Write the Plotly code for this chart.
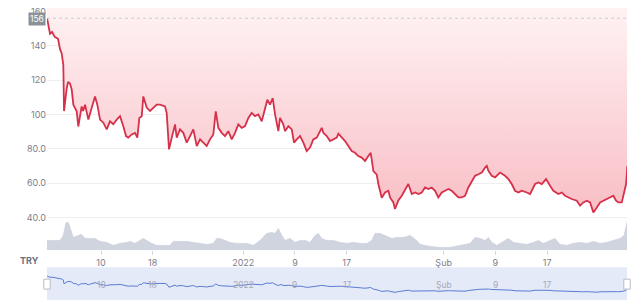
import plotly.graph_objects as go
import pandas as pd

START = pd.Timestamp("2021-12-01")
currency = "TRY"

# price: days since 2021-12-01, value in TRY
price_days = [0.65, 0.80, 1.11, 1.42, 1.88, 2.35, 2.66, 2.92, 3.17, 3.28, 3.43, 3.69, 3.90, 4.20, 4.47,
              4.72, 5.24, 5.49, 5.75, 6.01, 6.22, 6.53, 7.04, 7.56, 8.07, 8.43, 8.85, 9.36, 9.88, 10.39,
              10.90, 11.43, 11.94, 12.45, 12.87, 13.22, 13.75, 14.26, 14.62, 14.93, 15.30, 15.54, 16.07,
              16.58, 17.09, 17.62, 18.13, 18.90, 19.16, 19.52, 19.94, 20.45, 20.71, 21.22, 21.73, 22.26,
              22.77, 23.28, 23.81, 24.32, 24.83, 25.35, 25.86, 26.37, 26.75, 27.15, 27.67, 28.18, 28.69,
              29.22, 29.73, 30.24, 30.77, 31.28, 31.79, 32.31, 32.82, 33.34, 33.86, 34.37, 34.73, 35.14,
              35.56, 35.92, 36.43, 36.69, 37.20, 37.46, 37.98, 38.50, 38.86, 39.27, 39.79, 40.30, 40.82,
              41.33, 41.84, 42.37, 42.88, 43.14, 43.39, 43.92, 44.43, 44.94, 45.46, 45.71, 46.24, 46.75,
              47.26, 47.78, 48.29, 48.80, 49.33, 49.84, 50.35, 50.72, 51.13, 51.65, 51.90, 52.42, 52.94,
              53.45, 53.71, 54.22, 54.48, 54.99, 55.52, 56.03, 56.54, 57.07, 57.58, 58.09, 58.61, 59.12,
              59.63, 60.16, 60.67, 61.18, 61.71, 62.22, 62.73, 63.25, 63.76, 64.28, 64.80, 65.31, 65.82,
              66.35, 66.86, 67.37, 67.90, 68.41, 68.67, 68.92, 69.44, 69.95, 70.46, 70.72, 71.50, 72.01,
              72.53, 73.04, 73.56, 74.08, 74.86, 75.37, 76.14, 76.65, 77.18, 77.84, 78.46, 78.97, 79.75,
              80.27, 80.78, 81.29, 81.82, 82.59, 83.10, 83.61, 84.14, 84.65, 85.16, 85.69, 86.20, 86.71,
              87.23, 87.74, 88.25, 88.67, 89.03, 89.55, 89.91, 90.22, 90.42]
price_vals = [156, 153, 147, 148, 145, 144, 138, 135.5, 128.8, 102, 108, 115, 119, 118, 114.5,
              105.7, 101.8, 93, 99, 104.7, 102, 105.7, 97, 104, 110.5, 105.7, 97, 95.2, 91.3, 96,
              94.3, 97, 99, 93.2, 87.4, 86.5, 88.4, 89.3, 86.5, 98, 99, 110.5, 104,
              102, 104, 105.7, 105.7, 104.7, 100.9, 79.7, 86.5, 94.2, 86.5, 91.3, 89.3, 83.6,
              87.4, 91.3, 81.6, 85.5, 83.6, 81.6, 85.5, 88.4, 101.8, 92.2, 89.3, 87.4, 90.3,
              85.5, 89.3, 94.2, 92.2, 93.2, 98, 100.9, 99, 100, 96, 103.9, 108.6, 105.7,
              109.5, 100, 90.3, 98, 94.2, 90.3, 93.2, 91.3, 83.6, 85.5, 87.4, 83.6, 78.7,
              80.7, 85.5, 86.5, 90.3, 92.2, 89.3, 87.4, 84.5, 85.5, 86.5, 88.8, 86.5, 84.5,
              81.6, 78.7, 77.7, 75.8, 74.9, 72.9, 75.8, 77.7, 67, 65, 59.5, 51.5, 54.6,
              55.6, 51.7, 48.8, 45, 50, 52.7, 56.6, 59.5, 53.7, 54.6, 53.7, 54.6, 57.5,
              56.6, 57.5, 55.6, 51.7, 54.6, 55.6, 56.6, 55.6, 53.7, 51.7, 51.7, 52.7, 57.5,
              61.4, 64.3, 65.2, 66.2, 69.1, 70.1, 67.2, 64.3, 63.4, 65.2, 66.2, 64.3, 62.4,
              59.5, 55.6, 54.6, 55.6, 54.6, 53.7, 59.5, 60.4, 59.5, 62.4, 58.5, 55.6, 53.7,
              54.6, 52.7, 51.7, 50.8, 49.8, 46.9, 48.8, 49.8, 48.8, 43, 45.9, 48.8, 49.8,
              50.8, 51.7, 52.7, 49.8, 48.8, 48.8, 53.7, 59.5, 70.1]

# volume (relative units)
vol_days = [0.60, 1.62, 2.66, 3.17, 3.59, 3.94, 4.31, 4.72, 5.49, 6.01, 6.53, 7.30, 8.07, 8.85, 9.88,
            10.90, 11.94, 12.98, 13.49, 14.26, 15.04, 15.54, 16.07, 16.84, 17.62, 18.64, 19.67, 20.19,
            21.22, 22.26, 23.28, 24.32, 25.35, 26.37, 26.90, 27.41, 28.18, 28.96, 29.99, 30.50, 31.54,
            32.56, 33.60, 34.63, 35.41, 35.92, 36.43, 36.96, 37.46, 38.24, 39.01, 39.79, 40.56, 41.33,
            42.11, 42.62, 43.14, 43.92, 44.94, 45.98, 47.01, 48.03, 49.07, 50.11, 50.88, 51.39, 52.17,
            52.94, 53.97, 54.75, 55.77, 56.81, 57.84, 58.35, 59.90, 61.44, 62.99, 64.54, 66.09, 66.86,
            67.63, 68.41, 68.92, 69.44, 70.22, 71.24, 72.01, 72.79, 73.82, 74.86, 75.88, 76.65, 77.42,
            78.46, 79.23, 80.00, 81.05, 82.07, 83.10, 84.14, 85.16, 86.20, 87.23, 88.25, 89.29, 89.91,
            90.33, 90.42]
vol_vals = [10, 10, 10, 15, 28, 28, 20, 13, 15, 16, 12, 12, 12, 9, 8,
            5, 7, 8, 9, 7, 10, 12, 10, 7, 5, 5, 5, 9,
            9, 9, 8, 7, 6, 7, 12, 12, 10, 8, 7, 7, 7,
            5, 10, 17, 18, 17, 22, 15, 10, 12, 8, 10, 10, 8,
            15, 17, 12, 10, 10, 8, 7, 8, 7, 7, 10, 17, 17,
            15, 12, 13, 13, 15, 10, 6, 4, 3, 3, 5, 7, 13,
            12, 10, 13, 8, 5, 9, 12, 8, 7, 6, 8, 10, 7,
            10, 12, 6, 5, 7, 8, 7, 9, 7, 8, 10, 12, 15,
            27, 30]

tick_dates = ["2021-12-10", "2021-12-18", "2022-01-01", "2022-01-09", "2022-01-17",
              "2022-02-01", "2022-02-09", "2022-02-17"]
tick_text = ["10", "18", "2022", "9", "17", "Şub", "9", "17"]
ytick_vals = [40, 60, 80, 100, 120, 140, 160]
ytick_text = ["40.0", "60.0", "80.0", "100", "120", "140", "160"]

price_x = [START + pd.Timedelta(days=d) for d in price_days]
vol_x = [START + pd.Timedelta(days=d) for d in vol_days]
x_range = [START + pd.Timedelta(days=0.646), START + pd.Timedelta(days=90.36)]

Y_TOP = 161.97
Y_BOT = 20.92
LINE_RED = "#d6304a"
TICK_COL = "#7b808c"
FONT = "Inter"

fig = go.Figure()

# invisible top boundary for fill above line
fig.add_trace(go.Scatter(x=[price_x[0], price_x[-1]], y=[Y_TOP, Y_TOP], mode="lines",
                         line=dict(width=0, color="rgba(0,0,0,0)"), showlegend=False,
                         hoverinfo="skip", xaxis="x", yaxis="y"))
fig.add_trace(go.Scatter(x=price_x, y=price_vals, mode="lines",
                         line=dict(color=LINE_RED, width=1.8),
                         fill="tonexty",
                         fillgradient=dict(type="vertical",
                                           colorscale=[[0, "rgb(248,190,197)"], [1, "rgb(255,242,243)"]],
                                           start=42, stop=Y_TOP),
                         showlegend=False, xaxis="x", yaxis="y"))

# volume
fig.add_trace(go.Scatter(x=vol_x, y=vol_vals, mode="lines", fill="tozeroy",
                         fillcolor="#cfd4de", line=dict(color="#c6cbd6", width=0.6),
                         showlegend=False, xaxis="x", yaxis="y2"))

# navigator
fig.add_trace(go.Scatter(x=price_x, y=price_vals, mode="lines",
                         line=dict(color="#5b7bd0", width=1),
                         showlegend=False, xaxis="x2", yaxis="y3"))

H = 304.0
def py(p):
    return (H - p) / H

fig.update_layout(
    width=640, height=304,
    margin=dict(l=47, r=13, t=0, b=0, pad=0),
    paper_bgcolor="white", plot_bgcolor="white",
    font=dict(family=FONT, size=9, color=TICK_COL),
    xaxis=dict(anchor="y", range=x_range, tickvals=tick_dates, ticktext=tick_text,
               ticks="outside", ticklen=4, tickcolor="#d3d7df", showgrid=False,
               showline=False, zeroline=False, tickfont=dict(size=9, color=TICK_COL)),
    yaxis=dict(domain=[py(250), py(6)], range=[Y_BOT, Y_TOP], tickvals=ytick_vals,
               ticktext=ytick_text, gridcolor="#efeff2", gridwidth=1, zeroline=False,
               showline=False, ticks="", tickfont=dict(size=9, color=TICK_COL)),
    yaxis2=dict(domain=[py(250), py(218)], range=[0, 32], anchor="x", visible=False),
    xaxis2=dict(anchor="y3", range=x_range, visible=False),
    yaxis3=dict(domain=[py(300), py(267)], range=[-7, 215], anchor="x2", visible=False),
)

shapes = [
    dict(type="rect", xref="x2 domain", yref="y3 domain", x0=0, x1=1, y0=0, y1=1,
         fillcolor="#e5eaf9", line=dict(width=0), layer="below"),
    dict(type="line", xref="x domain", yref="y", x0=0, x1=1,
         y0=max(price_vals), y1=max(price_vals),
         line=dict(color="#c9ccd3", width=1, dash="dot")),
    dict(type="rect", xref="paper", yref="paper", x0=-0.0055, x1=0.0055,
         y0=py(289), y1=py(279), fillcolor="white", line=dict(color="#b9bdc7", width=1)),
    dict(type="rect", xref="paper", yref="paper", x0=0.9945, x1=1.0055,
         y0=py(289), y1=py(279), fillcolor="white", line=dict(color="#b9bdc7", width=1)),
]
fig.update_layout(shapes=shapes)

annotations = [
    dict(text=str(int(round(max(price_vals)))), xref="paper", yref="y", x=0, y=max(price_vals),
         xanchor="right", yanchor="middle", xshift=-1, yshift=-1, showarrow=False,
         bgcolor="#8b9099", font=dict(color="white", size=8.5, family=FONT), borderpad=1),
    dict(text="<b>" + currency + "</b>", xref="paper", yref="paper", x=0, y=py(260),
         xanchor="right", yanchor="middle", xshift=-6, showarrow=False,
         font=dict(color="#6a6f7e", size=9, family=FONT)),
]
for d, t in zip(tick_dates, tick_text):
    annotations.append(dict(text=t, xref="x2", yref="paper", x=d, y=py(285),
                            xanchor="center", yanchor="middle", showarrow=False,
                            font=dict(color="#a3a9b7", size=8.5, family=FONT)))
fig.update_layout(annotations=annotations)

fig.write_html("out.html")
